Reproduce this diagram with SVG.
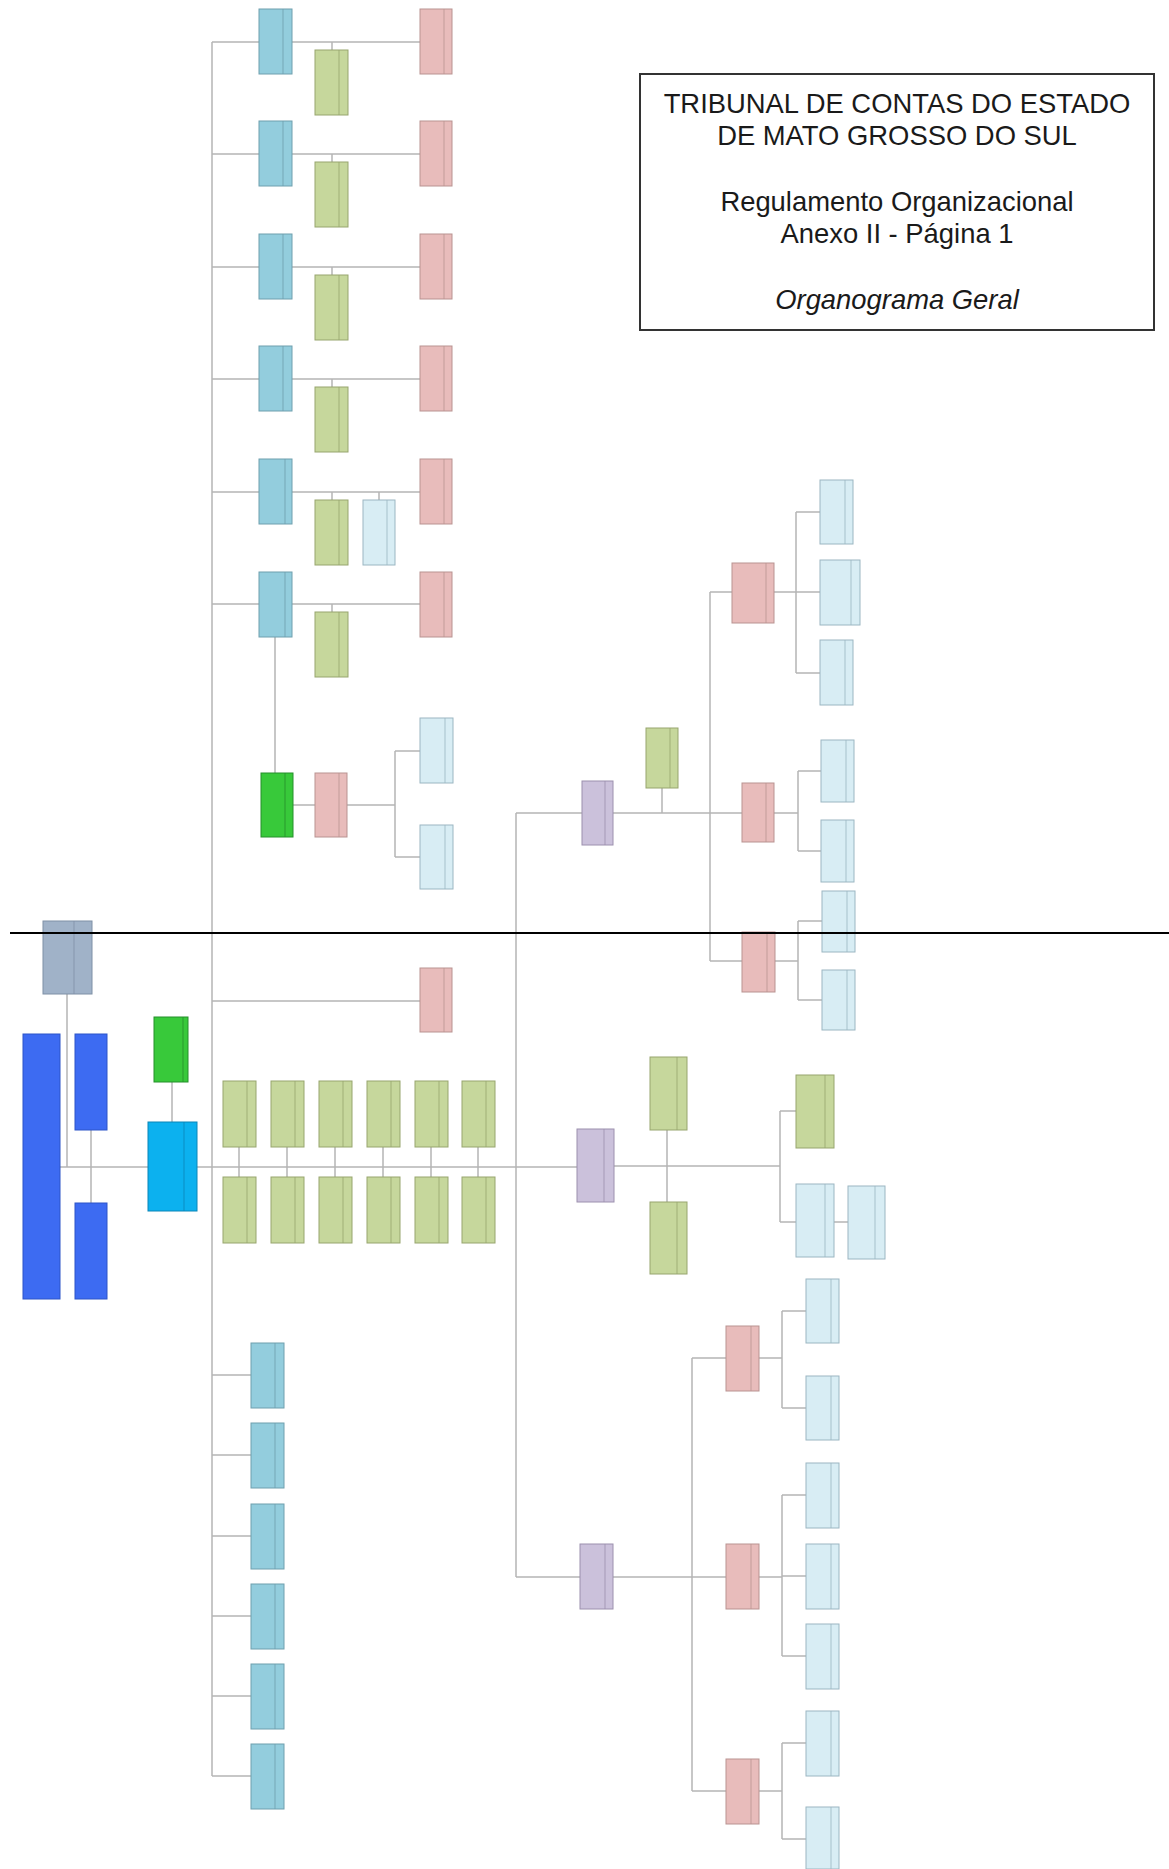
<svg xmlns="http://www.w3.org/2000/svg" width="1169" height="1869" viewBox="0 0 1169 1869">
<style>
.c{stroke:#b4b4b4;stroke-width:1.5;fill:none}
.bl{fill:#93cddd;stroke:#6f9fae;stroke-width:1}
.gr{fill:#c6d79c;stroke:#97a56e;stroke-width:1}
.pk{fill:#e8bcbb;stroke:#b99391;stroke-width:1}
.lb{fill:#d8edf4;stroke:#9bb6c2;stroke-width:1}
.pu{fill:#cbc1db;stroke:#9c90ae;stroke-width:1}
.bg{fill:#38c93a;stroke:#25902a;stroke-width:1}
.cy{fill:#0cb1ef;stroke:#0a86b8;stroke-width:1}
.rb{fill:#3d6bf2;stroke:#2d55c8;stroke-width:1}
.gy{fill:#a0b2c8;stroke:#7f90a6;stroke-width:1}
.d{stroke-width:1;stroke-opacity:0.8}
.t{font-family:"Liberation Sans",Arial,sans-serif;font-size:27.4px;fill:#1a1a1a;text-anchor:middle}
</style>
<rect width="1169" height="1869" fill="#fff"/>

<g id="connectors">
<line class="c" x1="212" y1="42" x2="212" y2="1776"/>
<line class="c" x1="212" y1="42" x2="420" y2="42"/><line class="c" x1="332" y1="42" x2="332" y2="50"/>
<line class="c" x1="212" y1="154" x2="420" y2="154"/><line class="c" x1="332" y1="154" x2="332" y2="162"/>
<line class="c" x1="212" y1="267" x2="420" y2="267"/><line class="c" x1="332" y1="267" x2="332" y2="275"/>
<line class="c" x1="212" y1="379" x2="420" y2="379"/><line class="c" x1="332" y1="379" x2="332" y2="387"/>
<line class="c" x1="212" y1="492" x2="420" y2="492"/><line class="c" x1="332" y1="492" x2="332" y2="500"/><line class="c" x1="379" y1="492" x2="379" y2="500"/>
<line class="c" x1="212" y1="604" x2="420" y2="604"/><line class="c" x1="332" y1="604" x2="332" y2="612"/>
<line class="c" x1="275" y1="637" x2="275" y2="773"/>
<line class="c" x1="293" y1="805" x2="315" y2="805"/>
<line class="c" x1="347" y1="805" x2="395" y2="805"/>
<line class="c" x1="395" y1="751" x2="395" y2="857"/>
<line class="c" x1="395" y1="751" x2="420" y2="751"/>
<line class="c" x1="395" y1="857" x2="420" y2="857"/>
<line class="c" x1="212" y1="1001" x2="420" y2="1001"/>
<line class="c" x1="60" y1="1167" x2="577" y2="1167"/>
<line class="c" x1="67" y1="994" x2="67" y2="1167"/>
<line class="c" x1="91" y1="1130" x2="91" y2="1203"/>
<line class="c" x1="172" y1="1082" x2="172" y2="1122"/>
<line class="c" x1="239" y1="1147" x2="239" y2="1177"/>
<line class="c" x1="287" y1="1147" x2="287" y2="1177"/>
<line class="c" x1="335" y1="1147" x2="335" y2="1177"/>
<line class="c" x1="383" y1="1147" x2="383" y2="1177"/>
<line class="c" x1="431" y1="1147" x2="431" y2="1177"/>
<line class="c" x1="478" y1="1147" x2="478" y2="1177"/>
<line class="c" x1="212" y1="1375" x2="251" y2="1375"/>
<line class="c" x1="212" y1="1455" x2="251" y2="1455"/>
<line class="c" x1="212" y1="1536" x2="251" y2="1536"/>
<line class="c" x1="212" y1="1616" x2="251" y2="1616"/>
<line class="c" x1="212" y1="1696" x2="251" y2="1696"/>
<line class="c" x1="212" y1="1776" x2="251" y2="1776"/>
<line class="c" x1="516" y1="813" x2="516" y2="1577"/>
<line class="c" x1="516" y1="813" x2="582" y2="813"/>
<line class="c" x1="613" y1="813" x2="742" y2="813"/>
<line class="c" x1="662" y1="788" x2="662" y2="813"/>
<line class="c" x1="710" y1="592" x2="710" y2="961"/>
<line class="c" x1="710" y1="592" x2="732" y2="592"/>
<line class="c" x1="774" y1="592" x2="796" y2="592"/>
<line class="c" x1="796" y1="512" x2="796" y2="673"/>
<line class="c" x1="796" y1="512" x2="820" y2="512"/>
<line class="c" x1="796" y1="592" x2="820" y2="592"/>
<line class="c" x1="796" y1="673" x2="820" y2="673"/>
<line class="c" x1="774" y1="813" x2="798" y2="813"/>
<line class="c" x1="798" y1="771" x2="798" y2="851"/>
<line class="c" x1="798" y1="771" x2="821" y2="771"/>
<line class="c" x1="798" y1="851" x2="821" y2="851"/>
<line class="c" x1="710" y1="961" x2="742" y2="961"/>
<line class="c" x1="775" y1="961" x2="798" y2="961"/>
<line class="c" x1="798" y1="921" x2="798" y2="1000"/>
<line class="c" x1="798" y1="921" x2="822" y2="921"/>
<line class="c" x1="798" y1="1000" x2="822" y2="1000"/>
<line class="c" x1="614" y1="1166" x2="780" y2="1166"/>
<line class="c" x1="667" y1="1130" x2="667" y2="1202"/>
<line class="c" x1="780" y1="1111" x2="780" y2="1222"/>
<line class="c" x1="780" y1="1111" x2="796" y2="1111"/>
<line class="c" x1="780" y1="1222" x2="796" y2="1222"/>
<line class="c" x1="834" y1="1222" x2="848" y2="1222"/>
<line class="c" x1="516" y1="1577" x2="580" y2="1577"/>
<line class="c" x1="613" y1="1577" x2="726" y2="1577"/>
<line class="c" x1="692" y1="1358" x2="692" y2="1791"/>
<line class="c" x1="692" y1="1358" x2="726" y2="1358"/>
<line class="c" x1="692" y1="1791" x2="726" y2="1791"/>
<line class="c" x1="759" y1="1358" x2="782" y2="1358"/>
<line class="c" x1="782" y1="1311" x2="782" y2="1408"/>
<line class="c" x1="782" y1="1311" x2="806" y2="1311"/>
<line class="c" x1="782" y1="1408" x2="806" y2="1408"/>
<line class="c" x1="759" y1="1577" x2="782" y2="1577"/>
<line class="c" x1="782" y1="1495" x2="782" y2="1656"/>
<line class="c" x1="782" y1="1495" x2="806" y2="1495"/>
<line class="c" x1="782" y1="1576" x2="806" y2="1576"/>
<line class="c" x1="782" y1="1656" x2="806" y2="1656"/>
<line class="c" x1="759" y1="1791" x2="782" y2="1791"/>
<line class="c" x1="782" y1="1743" x2="782" y2="1839"/>
<line class="c" x1="782" y1="1743" x2="806" y2="1743"/>
<line class="c" x1="782" y1="1839" x2="806" y2="1839"/>
</g>

<g id="row1-blue"><rect class="bl" x="259" y="9" width="33" height="65"/><line class="d" stroke="#6f9fae" x1="283" y1="9" x2="283" y2="74"/></g>
<g id="row1-green"><rect class="gr" x="315" y="50" width="33" height="65"/><line class="d" stroke="#97a56e" x1="339" y1="50" x2="339" y2="115"/></g>
<g id="row1-pink"><rect class="pk" x="420" y="9" width="32" height="65"/><line class="d" stroke="#b99391" x1="444" y1="9" x2="444" y2="74"/></g>

<g id="row2-blue"><rect class="bl" x="259" y="121" width="33" height="65"/><line class="d" stroke="#6f9fae" x1="283" y1="121" x2="283" y2="186"/></g>
<g id="row2-green"><rect class="gr" x="315" y="162" width="33" height="65"/><line class="d" stroke="#97a56e" x1="339" y1="162" x2="339" y2="227"/></g>
<g id="row2-pink"><rect class="pk" x="420" y="121" width="32" height="65"/><line class="d" stroke="#b99391" x1="444" y1="121" x2="444" y2="186"/></g>

<g id="row3-blue"><rect class="bl" x="259" y="234" width="33" height="65"/><line class="d" stroke="#6f9fae" x1="283" y1="234" x2="283" y2="299"/></g>
<g id="row3-green"><rect class="gr" x="315" y="275" width="33" height="65"/><line class="d" stroke="#97a56e" x1="339" y1="275" x2="339" y2="340"/></g>
<g id="row3-pink"><rect class="pk" x="420" y="234" width="32" height="65"/><line class="d" stroke="#b99391" x1="444" y1="234" x2="444" y2="299"/></g>

<g id="row4-blue"><rect class="bl" x="259" y="346" width="33" height="65"/><line class="d" stroke="#6f9fae" x1="283" y1="346" x2="283" y2="411"/></g>
<g id="row4-green"><rect class="gr" x="315" y="387" width="33" height="65"/><line class="d" stroke="#97a56e" x1="339" y1="387" x2="339" y2="452"/></g>
<g id="row4-pink"><rect class="pk" x="420" y="346" width="32" height="65"/><line class="d" stroke="#b99391" x1="444" y1="346" x2="444" y2="411"/></g>

<g id="row5-blue"><rect class="bl" x="259" y="459" width="33" height="65"/><line class="d" stroke="#6f9fae" x1="285" y1="459" x2="285" y2="524"/></g>
<g id="row5-green"><rect class="gr" x="315" y="500" width="33" height="65"/><line class="d" stroke="#97a56e" x1="339" y1="500" x2="339" y2="565"/></g>
<g id="row5-lightblue"><rect class="lb" x="363" y="500" width="32" height="65"/><line class="d" stroke="#9bb6c2" x1="387" y1="500" x2="387" y2="565"/></g>
<g id="row5-pink"><rect class="pk" x="420" y="459" width="32" height="65"/><line class="d" stroke="#b99391" x1="444" y1="459" x2="444" y2="524"/></g>

<g id="row6-blue"><rect class="bl" x="259" y="572" width="33" height="65"/><line class="d" stroke="#6f9fae" x1="285" y1="572" x2="285" y2="637"/></g>
<g id="row6-green"><rect class="gr" x="315" y="612" width="33" height="65"/><line class="d" stroke="#97a56e" x1="339" y1="612" x2="339" y2="677"/></g>
<g id="row6-pink"><rect class="pk" x="420" y="572" width="32" height="65"/><line class="d" stroke="#b99391" x1="444" y1="572" x2="444" y2="637"/></g>

<g id="brightgreen-node"><rect class="bg" x="261" y="773" width="32" height="64"/><line class="d" stroke="#25902a" x1="285" y1="773" x2="285" y2="837"/></g>
<g id="pink-under-green"><rect class="pk" x="315" y="773" width="32" height="64"/><line class="d" stroke="#b99391" x1="339" y1="773" x2="339" y2="837"/></g>
<g id="lb-upper"><rect class="lb" x="420" y="718" width="33" height="65"/><line class="d" stroke="#9bb6c2" x1="445" y1="718" x2="445" y2="783"/></g>
<g id="lb-lower"><rect class="lb" x="420" y="825" width="33" height="64"/><line class="d" stroke="#9bb6c2" x1="445" y1="825" x2="445" y2="889"/></g>

<g id="pink-lower-left"><rect class="pk" x="420" y="968" width="32" height="64"/><line class="d" stroke="#b99391" x1="444" y1="968" x2="444" y2="1032"/></g>

<g id="gray-node"><rect class="gy" x="43" y="921" width="49" height="73"/><line class="d" stroke="#7f90a6" x1="74" y1="921" x2="74" y2="994"/></g>
<g id="tribunal-pleno"><rect class="rb" x="23" y="1034" width="37" height="265"/></g>
<g id="camara-1"><rect class="rb" x="75" y="1034" width="32" height="96"/></g>
<g id="camara-2"><rect class="rb" x="75" y="1203" width="32" height="96"/></g>
<g id="green-small"><rect class="bg" x="154" y="1017" width="34" height="65"/><line class="d" stroke="#25902a" x1="183" y1="1017" x2="183" y2="1082"/></g>
<g id="presidencia"><rect class="cy" x="148" y="1122" width="49" height="89"/><line class="d" stroke="#0a86b8" x1="184" y1="1122" x2="184" y2="1211"/></g>

<g id="grid-r1c1"><rect class="gr" x="223" y="1081" width="33" height="66"/><line class="d" stroke="#97a56e" x1="247" y1="1081" x2="247" y2="1147"/></g>
<g id="grid-r1c2"><rect class="gr" x="271" y="1081" width="33" height="66"/><line class="d" stroke="#97a56e" x1="295" y1="1081" x2="295" y2="1147"/></g>
<g id="grid-r1c3"><rect class="gr" x="319" y="1081" width="33" height="66"/><line class="d" stroke="#97a56e" x1="343" y1="1081" x2="343" y2="1147"/></g>
<g id="grid-r1c4"><rect class="gr" x="367" y="1081" width="33" height="66"/><line class="d" stroke="#97a56e" x1="391" y1="1081" x2="391" y2="1147"/></g>
<g id="grid-r1c5"><rect class="gr" x="415" y="1081" width="33" height="66"/><line class="d" stroke="#97a56e" x1="439" y1="1081" x2="439" y2="1147"/></g>
<g id="grid-r1c6"><rect class="gr" x="462" y="1081" width="33" height="66"/><line class="d" stroke="#97a56e" x1="486" y1="1081" x2="486" y2="1147"/></g>
<g id="grid-r2c1"><rect class="gr" x="223" y="1177" width="33" height="66"/><line class="d" stroke="#97a56e" x1="247" y1="1177" x2="247" y2="1243"/></g>
<g id="grid-r2c2"><rect class="gr" x="271" y="1177" width="33" height="66"/><line class="d" stroke="#97a56e" x1="295" y1="1177" x2="295" y2="1243"/></g>
<g id="grid-r2c3"><rect class="gr" x="319" y="1177" width="33" height="66"/><line class="d" stroke="#97a56e" x1="343" y1="1177" x2="343" y2="1243"/></g>
<g id="grid-r2c4"><rect class="gr" x="367" y="1177" width="33" height="66"/><line class="d" stroke="#97a56e" x1="391" y1="1177" x2="391" y2="1243"/></g>
<g id="grid-r2c5"><rect class="gr" x="415" y="1177" width="33" height="66"/><line class="d" stroke="#97a56e" x1="439" y1="1177" x2="439" y2="1243"/></g>
<g id="grid-r2c6"><rect class="gr" x="462" y="1177" width="33" height="66"/><line class="d" stroke="#97a56e" x1="486" y1="1177" x2="486" y2="1243"/></g>

<g id="bl-1"><rect class="bl" x="251" y="1343" width="33" height="65"/><line class="d" stroke="#6f9fae" x1="275" y1="1343" x2="275" y2="1408"/></g>
<g id="bl-2"><rect class="bl" x="251" y="1423" width="33" height="65"/><line class="d" stroke="#6f9fae" x1="275" y1="1423" x2="275" y2="1488"/></g>
<g id="bl-3"><rect class="bl" x="251" y="1504" width="33" height="65"/><line class="d" stroke="#6f9fae" x1="275" y1="1504" x2="275" y2="1569"/></g>
<g id="bl-4"><rect class="bl" x="251" y="1584" width="33" height="65"/><line class="d" stroke="#6f9fae" x1="275" y1="1584" x2="275" y2="1649"/></g>
<g id="bl-5"><rect class="bl" x="251" y="1664" width="33" height="65"/><line class="d" stroke="#6f9fae" x1="275" y1="1664" x2="275" y2="1729"/></g>
<g id="bl-6"><rect class="bl" x="251" y="1744" width="33" height="65"/><line class="d" stroke="#6f9fae" x1="275" y1="1744" x2="275" y2="1809"/></g>

<g id="purple-1"><rect class="pu" x="582" y="781" width="31" height="64"/><line class="d" stroke="#9c90ae" x1="605" y1="781" x2="605" y2="845"/></g>
<g id="green-p1"><rect class="gr" x="646" y="728" width="32" height="60"/><line class="d" stroke="#97a56e" x1="670" y1="728" x2="670" y2="788"/></g>
<g id="pink-a"><rect class="pk" x="732" y="563" width="42" height="60"/><line class="d" stroke="#b99391" x1="766" y1="563" x2="766" y2="623"/></g>
<g id="lb-a1"><rect class="lb" x="820" y="480" width="33" height="64"/><line class="d" stroke="#9bb6c2" x1="845" y1="480" x2="845" y2="544"/></g>
<g id="lb-a2"><rect class="lb" x="820" y="560" width="40" height="65"/><line class="d" stroke="#9bb6c2" x1="851" y1="560" x2="851" y2="625"/></g>
<g id="lb-a3"><rect class="lb" x="820" y="640" width="33" height="65"/><line class="d" stroke="#9bb6c2" x1="845" y1="640" x2="845" y2="705"/></g>
<g id="pink-b"><rect class="pk" x="742" y="783" width="32" height="59"/><line class="d" stroke="#b99391" x1="766" y1="783" x2="766" y2="842"/></g>
<g id="lb-b1"><rect class="lb" x="821" y="740" width="33" height="62"/><line class="d" stroke="#9bb6c2" x1="846" y1="740" x2="846" y2="802"/></g>
<g id="lb-b2"><rect class="lb" x="821" y="820" width="33" height="62"/><line class="d" stroke="#9bb6c2" x1="846" y1="820" x2="846" y2="882"/></g>
<g id="pink-c"><rect class="pk" x="742" y="932" width="33" height="60"/><line class="d" stroke="#b99391" x1="767" y1="932" x2="767" y2="992"/></g>
<g id="lb-c1"><rect class="lb" x="822" y="891" width="33" height="61"/><line class="d" stroke="#9bb6c2" x1="847" y1="891" x2="847" y2="952"/></g>
<g id="lb-c2"><rect class="lb" x="822" y="970" width="33" height="60"/><line class="d" stroke="#9bb6c2" x1="847" y1="970" x2="847" y2="1030"/></g>

<g id="secretaria-geral"><rect class="pu" x="577" y="1129" width="37" height="73"/><line class="d" stroke="#9c90ae" x1="604" y1="1129" x2="604" y2="1202"/></g>
<g id="sg-green-top"><rect class="gr" x="650" y="1057" width="37" height="73"/><line class="d" stroke="#97a56e" x1="677" y1="1057" x2="677" y2="1130"/></g>
<g id="sg-green-bottom"><rect class="gr" x="650" y="1202" width="37" height="72"/><line class="d" stroke="#97a56e" x1="677" y1="1202" x2="677" y2="1274"/></g>
<g id="sg-green-right"><rect class="gr" x="796" y="1075" width="38" height="73"/><line class="d" stroke="#97a56e" x1="825" y1="1075" x2="825" y2="1148"/></g>
<g id="sg-lb1"><rect class="lb" x="796" y="1184" width="38" height="73"/><line class="d" stroke="#9bb6c2" x1="825" y1="1184" x2="825" y2="1257"/></g>
<g id="sg-lb2"><rect class="lb" x="848" y="1186" width="37" height="73"/><line class="d" stroke="#9bb6c2" x1="875" y1="1186" x2="875" y2="1259"/></g>

<g id="purple-bottom"><rect class="pu" x="580" y="1544" width="33" height="65"/><line class="d" stroke="#9c90ae" x1="605" y1="1544" x2="605" y2="1609"/></g>
<g id="pink-d1"><rect class="pk" x="726" y="1326" width="33" height="65"/><line class="d" stroke="#b99391" x1="751" y1="1326" x2="751" y2="1391"/></g>
<g id="pink-d2"><rect class="pk" x="726" y="1544" width="33" height="65"/><line class="d" stroke="#b99391" x1="751" y1="1544" x2="751" y2="1609"/></g>
<g id="pink-d3"><rect class="pk" x="726" y="1759" width="33" height="65"/><line class="d" stroke="#b99391" x1="751" y1="1759" x2="751" y2="1824"/></g>
<g id="lb-d1a"><rect class="lb" x="806" y="1279" width="33" height="64"/><line class="d" stroke="#9bb6c2" x1="831" y1="1279" x2="831" y2="1343"/></g>
<g id="lb-d1b"><rect class="lb" x="806" y="1376" width="33" height="64"/><line class="d" stroke="#9bb6c2" x1="831" y1="1376" x2="831" y2="1440"/></g>
<g id="lb-d2a"><rect class="lb" x="806" y="1463" width="33" height="65"/><line class="d" stroke="#9bb6c2" x1="831" y1="1463" x2="831" y2="1528"/></g>
<g id="lb-d2b"><rect class="lb" x="806" y="1544" width="33" height="65"/><line class="d" stroke="#9bb6c2" x1="831" y1="1544" x2="831" y2="1609"/></g>
<g id="lb-d2c"><rect class="lb" x="806" y="1624" width="33" height="65"/><line class="d" stroke="#9bb6c2" x1="831" y1="1624" x2="831" y2="1689"/></g>
<g id="lb-d3a"><rect class="lb" x="806" y="1711" width="33" height="65"/><line class="d" stroke="#9bb6c2" x1="831" y1="1711" x2="831" y2="1776"/></g>
<g id="lb-d3b"><rect class="lb" x="806" y="1807" width="33" height="62"/><line class="d" stroke="#9bb6c2" x1="831" y1="1807" x2="831" y2="1869"/></g>

<line x1="10" y1="933" x2="1169" y2="933" stroke="#000" stroke-width="2"/>

<g id="title">
<rect x="640" y="74" width="514" height="256" fill="#fff" stroke="#333" stroke-width="2"/>
<text class="t" x="897" y="113">TRIBUNAL DE CONTAS DO ESTADO</text>
<text class="t" x="897" y="145">DE MATO GROSSO DO SUL</text>
<text class="t" x="897" y="211">Regulamento Organizacional</text>
<text class="t" x="897" y="243">Anexo II - Página 1</text>
<text class="t" x="897" y="309" font-style="italic">Organograma Geral</text>
</g>
</svg>
